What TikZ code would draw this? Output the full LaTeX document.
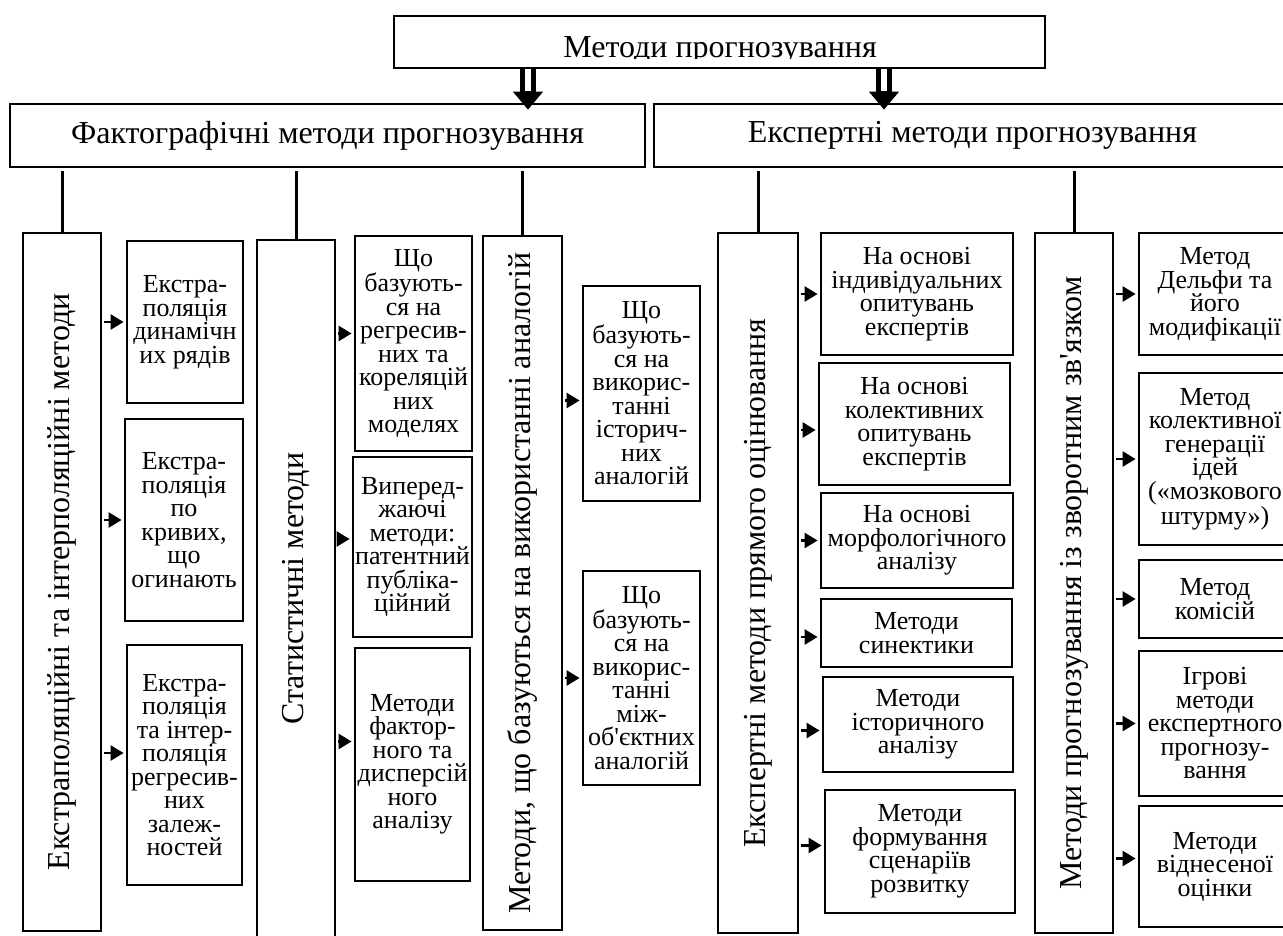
\documentclass[tikz,border=0pt]{standalone}
\usepackage{fontspec}
\setmainfont{Liberation Serif}
\usetikzlibrary{arrows.meta,calc}

\newcommand\hdfont{\fontsize{32}{36}\selectfont}
\newcommand\bxfont{\fontsize{26}{23.5}\selectfont}

\tikzset{
  frame/.style={draw, line width=2.8pt, inner sep=0pt, align=center},
  headbox/.style={frame, font=\hdfont},
  colbox/.style={frame, rotate=90, font=\hdfont},
  subbox/.style={frame, font=\bxfont},
  link/.style={line width=3pt, shorten <=3pt},
  tip/.style={line width=2.5pt, shorten <=2pt, shorten >=2pt, -{Triangle[length=13pt,width=15pt]}},
  hollow/.style={line width=1pt, shorten >=-7pt, -{Triangle[length=18pt,width=30pt]},
    postaction={draw, -, line width=16pt, shorten >=10pt},
    postaction={draw=white, -, line width=6pt, shorten >=12pt}}
}

\begin{document}
\begin{tikzpicture}[x=1pt,y=-1pt]
    \useasboundingbox (0,0) rectangle (1283,935);
    \fill[white] (0,0) rectangle (1283,935);
    \clip (0,0) rectangle (1283,935);

    % top level
    \node[frame, minimum width=651, minimum height=52] (top) at (719.5,42) {};
    \begin{scope}
        \clip (394,16) rectangle (1045,58);
        \node[anchor=base, font=\hdfont] (toptext) at (720,57) {Методи прогнозування};
    \end{scope}
    \node[headbox, minimum width=635, minimum height=63] (fact) at (327.5,135.5) {Фактографічні методи прогнозування};
    \node[headbox, minimum width=637, minimum height=63] (expert) at (972.5,135.5) {Експертні методи прогнозування};

    \coordinate (fa) at (528,0);
    \coordinate (ea) at (884,0);
    \draw[hollow] (top.south -| fa) -- (fact.north -| fa);
    \draw[hollow] (top.south -| ea) -- (expert.north -| ea);

    % columns
    \node[colbox, minimum width=698, minimum height=78] (colA) at (62,582) {Екстраполяційні та інтерполяційні методи};
    \node[colbox, minimum width=697, minimum height=78] (colB) at (296,588.5) {Статистичні методи};
    \node[colbox, minimum width=694, minimum height=79] (colC) at (522.5,583) {Методи, що базуються на використанні аналогій};
    \node[colbox, minimum width=700, minimum height=80] (colD) at (758,583) {Експертні методи прямого оцінювання};
    \node[colbox, minimum width=700, minimum height=78] (colE) at (1074,583) {Методи прогнозування із зворотним зв\textquotesingle язком};

    \draw[link] (colA.east |- fact.south) -- (colA.east);
    \draw[link] (colB.east |- fact.south) -- (colB.east);
    \draw[link] (colC.east |- fact.south) -- (colC.east);
    \draw[link] (colD.east |- expert.south) -- (colD.east);
    \draw[link] (colE.east |- expert.south) -- (colE.east);

    % factographic methods
    \node[subbox, minimum width=116, minimum height=162] (a1) at (185,322) {Екстра-\\поляція\\динамічн\\их рядів};
    \node[subbox, minimum width=118, minimum height=202] (a2) at (184,520) {Екстра-\\поляція\\по\\кривих,\\що\\огинають};
    \node[subbox, minimum width=115, minimum height=240] (a3) at (184.5,765) {Екстра-\\поляція\\та інтер-\\поляція\\регресив-\\них\\залеж-\\ностей};
    \node[subbox, minimum width=117, minimum height=215] (b1) at (413.5,343.5) {Що\\базують-\\ся на\\регресив-\\них та\\кореляцій\\них\\моделях};
    \node[subbox, minimum width=119, minimum height=180] (b2) at (412.5,547) {Виперед-\\жаючі\\методи:\\патентний\\публіка-\\ційний};
    \node[subbox, minimum width=115, minimum height=233] (b3) at (412.5,764.5) {Методи\\фактор-\\ного та\\дисперсій\\ного\\аналізу};
    \node[subbox, minimum width=117, minimum height=215] (c1) at (641.5,393.5) {Що\\базують-\\ся на\\викорис-\\танні\\історич-\\них\\аналогій};
    \node[subbox, minimum width=117, minimum height=214] (c2) at (641.5,678) {Що\\базують-\\ся на\\викорис-\\танні\\між-\\об\textquotesingle єктних\\аналогій};

    \draw[tip] (colA.south |- a1.west) -- (a1.west);
    \draw[tip] (colA.south |- a2.west) -- (a2.west);
    \draw[tip] ($(colA.south |- a3.west)+(0,-12)$) -- ($(a3.west)+(0,-12)$);
    \draw[tip] ($(colB.south |- b1.west)+(0,-10)$) -- ($(b1.west)+(0,-10)$);
    \draw[tip] ($(colB.south |- b2.west)+(0,-8)$) -- ($(b2.west)+(0,-8)$);
    \draw[tip] ($(colB.south |- b3.west)+(0,-23)$) -- ($(b3.west)+(0,-23)$);
    \draw[tip] ($(colC.south |- c1.west)+(0,7)$) -- ($(c1.west)+(0,7)$);
    \draw[tip] (colC.south |- c2.west) -- (c2.west);

    % expert methods
    \node[subbox, minimum width=192, minimum height=122] (d1) at (917,294) {На основі\\індивідуальних\\опитувань\\експертів};
    \node[subbox, minimum width=191, minimum height=122] (d2) at (914.5,424) {На основі\\колективних\\опитувань\\експертів};
    \node[subbox, minimum width=192, minimum height=95] (d3) at (917,540.5) {На основі\\морфологічного\\аналізу};
    \node[subbox, minimum width=191, minimum height=68] (d4) at (916.5,633) {Методи\\синектики};
    \node[subbox, minimum width=190, minimum height=95] (d5) at (918,724.5) {Методи\\історичного\\аналізу};
    \node[subbox, minimum width=190, minimum height=123] (d6) at (920,851.5) {Методи\\формування\\сценаріїв\\розвитку};
    \node[subbox, minimum width=152, minimum height=122] (e1) at (1215,294) {Метод\\Дельфи та\\його\\модифікації};
    \node[subbox, minimum width=152, minimum height=172] (e2) at (1215,459) {Метод\\колективної\\генерації\\ідей\\(«мозкового\\штурму»)};
    \node[subbox, minimum width=152, minimum height=78] (e3) at (1215,599) {Метод\\комісій};
    \node[subbox, minimum width=152, minimum height=145] (e4) at (1215,723.5) {Ігрові\\методи\\експертного\\прогнозу-\\вання};
    \node[subbox, minimum width=152, minimum height=121] (e5) at (1215,866.5) {Методи\\віднесеної\\оцінки};

    \draw[tip] (colD.south |- d1.west) -- (d1.west);
    \draw[tip] ($(colD.south |- d2.west)+(0,6)$) -- ($(d2.west)+(0,6)$);
    \draw[tip] (colD.south |- d3.west) -- (d3.west);
    \draw[tip] ($(colD.south |- d4.west)+(0,4)$) -- ($(d4.west)+(0,4)$);
    \draw[tip] ($(colD.south |- d5.west)+(0,6)$) -- ($(d5.west)+(0,6)$);
    \draw[tip] ($(colD.south |- d6.west)+(0,-6)$) -- ($(d6.west)+(0,-6)$);
    \draw[tip] (colE.south |- e1.west) -- (e1.west);
    \draw[tip] (colE.south |- e2.west) -- (e2.west);
    \draw[tip] (colE.south |- e3.west) -- (e3.west);
    \draw[tip] (colE.south |- e4.west) -- (e4.west);
    \draw[tip] ($(colE.south |- e5.west)+(0,-8)$) -- ($(e5.west)+(0,-8)$);
\end{tikzpicture}
\end{document}
